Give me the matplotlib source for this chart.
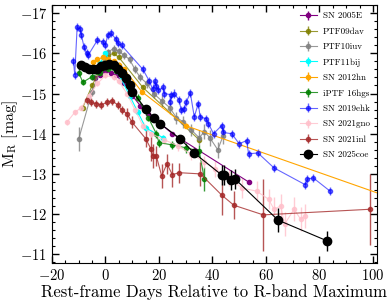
import numpy as np
import matplotlib
matplotlib.use("Agg")
import matplotlib.pyplot as plt
from matplotlib.ticker import MultipleLocator

plt.rcParams['font.family'] = ['cmr10', 'DejaVu Serif']
plt.rcParams['mathtext.fontset'] = 'cm'
plt.rcParams['axes.formatter.use_mathtext'] = True

# ---------------- data ----------------
t_05E = [-4, -2, 0, 2, 4, 7, 10, 13, 16, 25, 53.5]
m_05E = [-15.38, -15.45, -15.57, -15.5, -15.45, -15.25, -14.95, -14.7, -14.5, -14.0, -12.8]
e_05E = [0.05] * len(t_05E)

t_09dav = [-8.5, -5, -2, 1, 3, 5, 14, 35]
m_09dav = [-14.65, -15.2, -15.6, -15.95, -16.0, -15.9, -15.15, -13.85]
e_09dav = [0.05] * len(t_09dav)

t_10iuv = [-10, -5, -1, 1, 3, 5, 7, 9, 11, 13, 15.5, 18, 21, 24, 26.5, 29, 32, 35, 37, 39, 42, 44]
m_10iuv = [-13.87, -15.05, -15.75, -16.03, -16.12, -16.05, -15.95, -15.85, -15.6, -15.4, -15.25,
           -15.0, -14.82, -14.65, -14.4, -14.3, -14.1, -13.9, -14.05, -13.9, -13.6, -13.95]
e_10iuv = [0.3, 0.1, 0.1, 0.08, 0.08, 0.08, 0.08, 0.08, 0.1, 0.1, 0.12, 0.12, 0.15, 0.15, 0.15,
           0.15, 0.15, 0.18, 0.18, 0.2, 0.2, 0.2]

t_11bij = [-2, 0, 3, 6, 9, 12, 15, 21.5]
m_11bij = [-15.75, -16.0, -15.65, -15.35, -14.95, -14.55, -14.15, -13.9]
e_11bij = [0.06] * len(t_11bij)

t_12hn = [-4.5, -3, -1, 1, 3, 5, 7, 13.5, 30, 125]
m_12hn = [-15.78, -15.85, -15.9, -15.85, -15.8, -15.72, -15.6, -15.05, -14.2, -11.98]
e_12hn = [0.06] * len(t_12hn)

t_16hgs = [-10, -8.5, -5, -2, 1, 4, 8, 12, 16, 19, 20, 25, 30, 35, 37]
m_16hgs = [-15.52, -15.28, -15.42, -15.52, -15.62, -15.55, -15.3, -14.9, -14.4, -14.0, -13.78,
           -13.72, -13.65, -13.57, -12.87]
e_16hgs = [0.08, 0.08, 0.08, 0.06, 0.06, 0.06, 0.06, 0.08, 0.08, 0.1, 0.1, 0.1, 0.12, 0.15, 0.3]

t_19ehk = [-12, -11.5, -10.6, -9.5, -9, -8, -7, -6.5, -3, -1, 0, 0.8, 2, 4, 4.5, 6, 14, 16.3, 17.7,
           18.4, 19, 19.8, 21.5, 22, 24.5, 24, 25.5, 27.5, 28.3, 29.4, 30.2, 31.7, 33.2, 34.7, 35.4,
           37.7, 38.5, 40.4, 43.4, 44.1, 47.2, 50, 52.8, 53.5, 57, 63, 74.7, 75.5, 77.7, 83.8]
m_19ehk = [-15.82, -15.47, -16.65, -16.6, -16.45, -16.15, -16.0, -15.95, -16.33, -16.28, -16.2,
           -16.45, -16.5, -16.35, -16.25, -16.2, -15.6, -15.32, -15.1, -15.3, -15.18, -15.08, -15.15,
           -15.0, -14.97, -14.8, -15.0, -14.85, -14.58, -14.62, -14.78, -15.02, -14.42, -14.75, -14.42,
           -14.37, -14.25, -14.0, -14.2, -14.03, -14.0, -13.75, -13.83, -13.5, -13.52, -13.15, -12.73,
           -12.87, -12.9, -12.58]
e_19ehk = [0.1] * len(t_19ehk)

t_21gno = [-14.5, -11.5, -9, -6, -3, 0, 3, 5, 8, 11, 14, 17, 22, 27, 32, 37, 41, 46, 51, 56.5,
           61, 63, 65.5, 67, 70.5, 73, 74.5]
m_21gno = [-14.28, -14.53, -14.65, -14.95, -15.25, -15.45, -15.4, -15.3, -15.0, -14.6, -14.2,
           -14.0, -13.85, -13.7, -13.5, -13.3, -13.12, -12.9, -12.65, -12.57, -12.37, -12.12, -12.2,
           -11.75, -12.12, -11.87, -11.95]
e_21gno = [0.06, 0.06, 0.06, 0.06, 0.06, 0.06, 0.06, 0.06, 0.06, 0.08, 0.08, 0.1, 0.1, 0.12, 0.15,
           0.15, 0.2, 0.2, 0.25, 0.25, 0.25, 0.3, 0.3, 0.3, 0.3, 0.3, 0.3]

t_21inl = [-7, -5.5, -3.5, -1.5, 0.5, 2.5, 4.5, 6, 8, 10, 15, 17, 17.7, 19, 21, 23, 25, 27.5,
           35.5, 43.5, 48, 59, 99]
m_21inl = [-14.85, -14.78, -14.75, -14.72, -14.78, -14.82, -14.72, -14.6, -14.5, -14.28, -13.88,
           -13.62, -13.45, -13.45, -12.95, -13.25, -12.98, -13.03, -13.0, -12.47, -12.22, -11.98,
           -12.12]
e_21inl = [0.1, 0.1, 0.1, 0.1, 0.1, 0.1, 0.1, 0.1, 0.15, 0.15, 0.2, 0.3, 0.3, 0.25, 0.3, 0.25,
           0.3, 0.25, 0.3, 0.5, 0.35, 0.9, 0.88]

t_25coe = [-9, -7.5, -6, -4.5, -3, -1.5, 0, 1.5, 3, 4.5, 6, 7.5, 9, 10, 15, 18, 20.5, 28, 33,
           43.5, 44.5, 47, 48.5, 64.5, 83]
m_25coe = [-15.7, -15.65, -15.62, -15.6, -15.62, -15.68, -15.72, -15.73, -15.7, -15.62, -15.5,
           -15.38, -15.2, -15.05, -14.62, -14.4, -14.25, -13.87, -13.53, -12.97, -12.97, -12.85,
           -12.87, -11.85, -11.33]
e_25coe = [0.05] * 17 + [0.1, 0.12, 0.25, 0.25, 0.25, 0.25, 0.3, 0.25]

series = [
    ("SN 2005E", t_05E, m_05E, e_05E, "purple", 3, 1.0),
    ("PTF09dav", t_09dav, m_09dav, e_09dav, "olive", 3, 0.8),
    ("PTF10iuv", t_10iuv, m_10iuv, e_10iuv, "gray", 3, 0.8),
    ("PTF11bij", t_11bij, m_11bij, e_11bij, "cyan", 3, 1.0),
    ("SN 2012hn", t_12hn, m_12hn, e_12hn, "orange", 3, 1.0),
    ("iPTF 16hgs", t_16hgs, m_16hgs, e_16hgs, "green", 3, 0.8),
    ("SN 2019ehk", t_19ehk, m_19ehk, e_19ehk, "blue", 3, 0.6),
    ("SN 2021gno", t_21gno, m_21gno, e_21gno, "pink", 3, 0.8),
    ("SN 2021inl", t_21inl, m_21inl, e_21inl, "brown", 3, 0.8),
    ("SN 2025coe", t_25coe, m_25coe, e_25coe, "black", 6, 1.0),
]

fig = plt.figure(figsize=(3.91, 3.0), dpi=100)
ax = fig.add_axes([0.133, 0.123, 0.831, 0.86])

for name, t, m, e, c, ms, a in series:
    ax.errorbar(t, m, yerr=e, fmt='o-', color=c, ms=ms, lw=0.8, elinewidth=1.0,
                capsize=0, alpha=a, label=name, zorder=5 if c == 'black' else 3)

ax.set_xlim(-20, 101.5)
ax.set_ylim(-10.78, -17.2)
ax.xaxis.set_major_locator(MultipleLocator(20))
ax.xaxis.set_minor_locator(MultipleLocator(5))
ax.yaxis.set_major_locator(MultipleLocator(1))
ax.yaxis.set_minor_locator(MultipleLocator(0.2))
ax.tick_params(which='both', direction='in', top=True, right=True, labelsize=10.5)
ax.tick_params(which='major', length=5, width=1)
ax.tick_params(which='minor', length=2.5, width=0.8)

ax.set_xlabel("Rest-frame Days Relative to R-band Maximum", fontsize=12, labelpad=1)
ax.set_ylabel(r"M$_{\rm R}$ [mag]", fontsize=11.5)
ax.yaxis.set_label_coords(-0.098, 0.5)

ax.legend(loc='upper right', fontsize=6.5, frameon=False, handlelength=1.9,
          handletextpad=0.7, labelspacing=0.78, borderaxespad=0.35)

fig.savefig("out.png", dpi=100)
